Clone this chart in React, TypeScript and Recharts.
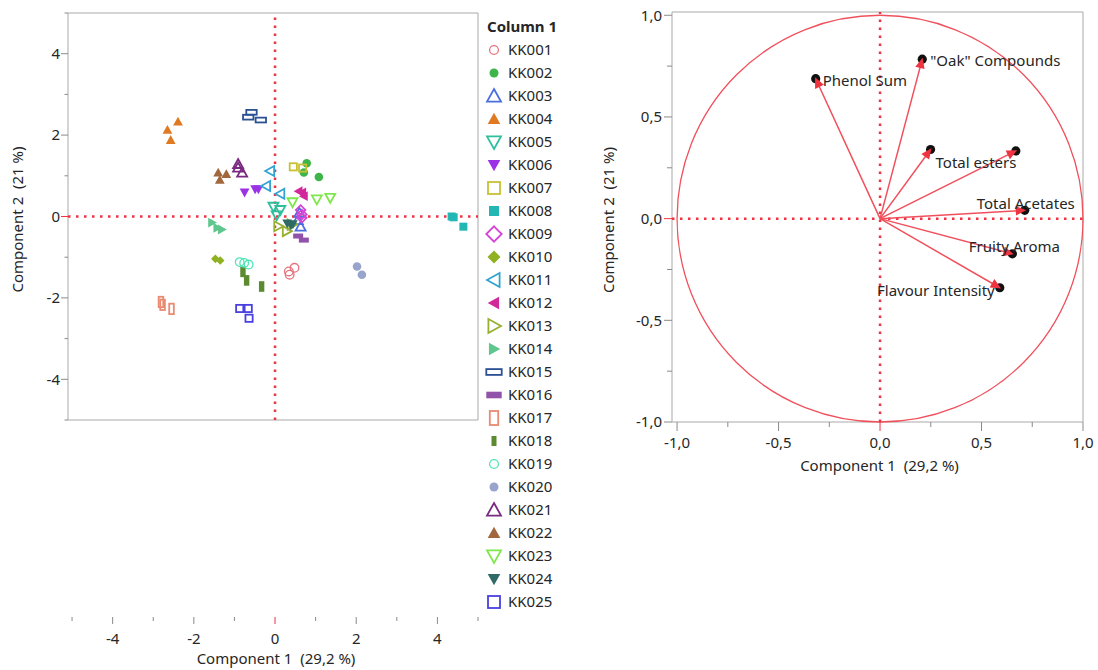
import React from 'react';
import { ScatterChart, Scatter, XAxis, YAxis, ReferenceLine, ReferenceArea } from 'recharts';

// ---- score plot data (three replicates per wine, some overlap) ----
const sampleNames = [
  'KK001', 'KK002', 'KK003', 'KK004', 'KK005', 'KK006', 'KK007', 'KK008', 'KK009', 'KK010',
  'KK011', 'KK012', 'KK013', 'KK014', 'KK015', 'KK016', 'KK017', 'KK018', 'KK019', 'KK020',
  'KK021', 'KK022', 'KK023', 'KK024', 'KK025',
];

const pc1Scores = [
  [0.48, 0.34, 0.36],
  [0.78, 0.71, 1.08],
  [0.6, 0.56, 0.63],
  [-2.39, -2.65, -2.57],
  [-0.04, 0.13, 0.04],
  [-0.75, -0.49, -0.41],
  [0.45, 0.68],
  [4.35, 4.4, 4.64],
  [0.63, 0.66, 0.66],
  [-1.47, -1.35],
  [-0.12, -0.22, 0.13],
  [0.58, 0.67, 0.71],
  [0.08, 0.29, 0.41],
  [-1.55, -1.42, -1.31],
  [-0.58, -0.66, -0.35],
  [0.57, 0.71],
  [-2.81, -2.77, -2.55],
  [-0.79, -0.7, -0.33],
  [-0.87, -0.76, -0.65],
  [2.02, 2.14],
  [-0.91, -0.91, -0.81],
  [-1.4, -1.2, -1.36],
  [0.43, 1.03, 1.36],
  [0.3, 0.39, 0.44],
  [-0.87, -0.66, -0.64],
];

const pc2Scores = [
  [-1.26, -1.35, -1.43],
  [1.31, 1.08, 0.97],
  [0.09, -0.09, -0.25],
  [2.33, 2.13, 1.88],
  [0.24, 0.16, 0.03],
  [0.59, 0.67, 0.67],
  [1.22, 1.19],
  [0.0, -0.02, -0.25],
  [0.16, 0.05, -0.03],
  [-1.04, -1.08],
  [1.12, 0.75, 0.56],
  [0.62, 0.59, 0.5],
  [-0.24, -0.36, -0.2],
  [-0.15, -0.28, -0.32],
  [2.56, 2.44, 2.37],
  [-0.48, -0.58],
  [-2.1, -2.17, -2.27],
  [-1.36, -1.57, -1.72],
  [-1.12, -1.14, -1.18],
  [-1.23, -1.43],
  [1.29, 1.2, 1.08],
  [1.08, 1.04, 0.9],
  [0.35, 0.42, 0.46],
  [-0.17, -0.22, -0.19],
  [-2.26, -2.26, -2.5],
];

const scoreTicks = [-5, -4, -3, -2, -1, 0, 1, 2, 3, 4, 5];

// ---- loading plot data ----
const loadingNames = ['Phenol Sum', '"Oak" Compounds', 'Total esters', '', 'Total Acetates', 'Fruity Aroma', 'Flavour Intensity'];
const loadingPC1 = [-0.317, 0.208, 0.249, 0.669, 0.713, 0.652, 0.59];
const loadingPC2 = [0.688, 0.784, 0.34, 0.333, 0.041, -0.173, -0.34];

const loadingTicks = [-1, -0.75, -0.5, -0.25, 0, 0.25, 0.5, 0.75, 1];

// ---- styling ----
type Kind = 'circle' | 'up' | 'down' | 'square' | 'diamond' | 'left' | 'right' | 'wide' | 'tall';
const markerKinds: Kind[] = [
  'circle', 'circle', 'up', 'up', 'down', 'down', 'square', 'square', 'diamond', 'diamond',
  'left', 'left', 'right', 'right', 'wide', 'wide', 'tall', 'tall', 'circle', 'circle',
  'up', 'up', 'down', 'down', 'square',
];
const markerColors = [
  '#e5737f', '#3db54a', '#4a6ee0', '#e07a22', '#2fbf9c', '#9b32e6', '#c9c132', '#22b6b4', '#d644d6', '#8fb122',
  '#35a3d2', '#d1299a', '#97b032', '#5fc78e', '#2b5193', '#9152a9', '#e98a72', '#5b8a31', '#4fe5b5', '#98a4cc',
  '#7a2a80', '#a0683c', '#80e64e', '#2f6b64', '#4a40e0',
];

// marker half sizes [open, filled]; legend symbols are drawn larger than plot symbols
const legendSizes = {
  circle: [4.4, 4.5], tri: [7, 6.3], square: [6, 5], diamond: [7.7, 6.5],
  wide: [[7.7, 2.9], [7.7, 3.3]], tall: [[4.2, 7], [2.5, 5]],
};
const plotSizes = {
  circle: [4.3, 4.3], tri: [5, 4.9], square: [3.6, 4], diamond: [4.8, 4.3],
  wide: [[5.2, 2.4], [5, 2.5]], tall: [[2.3, 5.2], [2.7, 5.3]],
};

const RED = '#ef3340';
const LINE_RED = '#f0505c';
const FRAME = '#a9a9a9';
const TICK = '#8a8a8a';
const TEXT = '#262626';
const FONT = "'Segoe UI', 'Noto Sans', sans-serif";

const scoreX: [number, number] = [-5.1, 5];
const scoreY: [number, number] = [-5, 5];
const loadX: [number, number] = [-1.025, 1];
const loadY: [number, number] = [-1, 1.016];

function Marker({ kind, filled, color, cx, cy, sizes }: { kind: Kind; filled: boolean; color: string; cx: number; cy: number; sizes: any }) {
  const f = filled ? 1 : 0;
  const paint = filled
    ? { fill: color, stroke: 'none' }
    : { fill: 'none', stroke: color, strokeWidth: 1.8 };
  const a = sizes.tri[f];
  switch (kind) {
    case 'circle':
      return <circle cx={cx} cy={cy} r={sizes.circle[f]} {...paint} strokeWidth={filled ? 0 : 1.3} />;
    case 'up':
      return <polygon points={`${cx},${cy - a} ${cx + a},${cy + 0.8 * a} ${cx - a},${cy + 0.8 * a}`} {...paint} />;
    case 'down':
      return <polygon points={`${cx},${cy + a} ${cx + a},${cy - 0.8 * a} ${cx - a},${cy - 0.8 * a}`} {...paint} />;
    case 'left':
      return <polygon points={`${cx - a},${cy} ${cx + 0.8 * a},${cy - a} ${cx + 0.8 * a},${cy + a}`} {...paint} />;
    case 'right':
      return <polygon points={`${cx + a},${cy} ${cx - 0.8 * a},${cy - a} ${cx - 0.8 * a},${cy + a}`} {...paint} />;
    case 'square': {
      const h = sizes.square[f];
      return <rect x={cx - h} y={cy - h} width={2 * h} height={2 * h} {...paint} />;
    }
    case 'diamond': {
      const h = sizes.diamond[f];
      return <polygon points={`${cx},${cy - h} ${cx + h},${cy} ${cx},${cy + h} ${cx - h},${cy}`} {...paint} />;
    }
    case 'wide': {
      const [w, h] = sizes.wide[f];
      return <rect x={cx - w} y={cy - h} width={2 * w} height={2 * h} {...paint} />;
    }
    case 'tall': {
      const [w, h] = sizes.tall[f];
      return <rect x={cx - w} y={cy - h} width={2 * w} height={2 * h} {...paint} />;
    }
  }
  return null;
}

const scoreSeries = sampleNames.map((name, i) => ({
  name,
  data: pc1Scores[i].map((x, j) => ({ x, y: pc2Scores[i][j] })),
}));

const loadingData = loadingNames.map((name, i) => ({ x: loadingPC1[i], y: loadingPC2[i], name, i }));

// where JMP put each loading label, relative to its point
const labelPlacement = [
  { dx: 7, dy: 1.5, anchor: 'start' },
  { dx: 8, dy: 2, anchor: 'start' },
  { dx: 5, dy: 13, anchor: 'start' },
  { dx: 0, dy: 0, anchor: 'start' },
  { dx: 1, dy: -7, anchor: 'middle' },
  { dx: 2, dy: -7, anchor: 'middle' },
  { dx: -5, dy: 3, anchor: 'end' },
];

const txt = { fontFamily: FONT, fontSize: 15, fill: TEXT };

// x axis of the score plot sits under the legend in JMP, far below the frame
const SCORE_AXIS_DROP = 197;

const ScoreXTick = (props: any) => {
  const { x, y, payload } = props;
  const v = payload.value;
  const major = v % 2 === 0;
  const y0 = y + SCORE_AXIS_DROP;
  return (
    <g>
      <line x1={x} x2={x} y1={y0} y2={y0 + (major ? 7 : 4)} stroke={v === 0 ? RED : TICK} />
      {major && <text x={x} y={y0 + 27} textAnchor="middle" {...txt}>{v}</text>}
    </g>
  );
};

const ScoreYTick = (props: any) => {
  const { x, y, payload } = props;
  const v = payload.value;
  const major = v % 2 === 0;
  return (
    <g>
      <line x1={x - (major ? 7 : 3.5)} x2={x} y1={y} y2={y} stroke={v === 0 ? RED : TICK} />
      {major && <text x={x - 8} y={y + 5.3} textAnchor="end" {...txt}>{v}</text>}
    </g>
  );
};

const fmt = (v: number) => v.toFixed(1).replace('.', ',');
const isHalf = (v: number) => Math.abs(v * 2 - Math.round(v * 2)) < 1e-6;

const LoadXTick = (props: any) => {
  const { x, y, payload } = props;
  const v = payload.value;
  const major = isHalf(v);
  return (
    <g>
      <line x1={x} x2={x} y1={y} y2={y + (major ? 9 : 5)} stroke={v === 0 ? RED : TICK} />
      {major && <text x={x} y={y + 25.5} textAnchor="middle" {...txt}>{fmt(v)}</text>}
    </g>
  );
};

const LoadYTick = (props: any) => {
  const { x, y, payload } = props;
  const v = payload.value;
  const major = isHalf(v);
  return (
    <g>
      <line x1={x - (major ? 8 : 5)} x2={x} y1={y} y2={y} stroke={v === 0 ? RED : TICK} />
      {major && <text x={x - 10} y={y + 5.3} textAnchor="end" {...txt}>{fmt(v)}</text>}
    </g>
  );
};

const xTitle = (dx: number, baseline: number) => (props: any) => {
  const vb = props.viewBox || { x: 0, y: 0, width: 0, height: 0 };
  return (
    <text x={vb.x + vb.width / 2 + dx} y={vb.y + baseline} textAnchor="middle" style={{ whiteSpace: 'pre' }} {...txt}>
      {'Component 1  (29,2 %)'}
    </text>
  );
};

const yTitle = (bx: number) => (props: any) => {
  const vb = props.viewBox || { x: 0, y: 0, width: 0, height: 0 };
  const cx = vb.x + bx;
  const cy = vb.y + vb.height / 2 + 3;
  return (
    <text x={cx} y={cy} transform={`rotate(-90, ${cx}, ${cy})`} textAnchor="middle" style={{ whiteSpace: 'pre' }} {...txt}>
      {'Component 2  (21 %)'}
    </text>
  );
};

const LoadingPoint = (props: any) => {
  const { cx, cy, payload } = props;
  const len = Math.hypot(payload.x, payload.y) || 1;
  const ux = payload.x / len;
  const uy = -payload.y / len;
  const tx = cx + ux * 1.5;
  const ty = cy + uy * 1.5;
  const bx = tx - ux * 10.5;
  const by = ty - uy * 10.5;
  const px = -uy * 4.8;
  const py = ux * 4.8;
  const place = labelPlacement[payload.i];
  return (
    <g>
      <circle cx={cx} cy={cy} r={4.6} fill="#111" />
      <polygon points={`${tx},${ty} ${bx + px},${by + py} ${bx - px},${by - py}`} fill={RED} />
      {payload.name && (
        <text x={cx + place.dx} y={cy + place.dy + 5.3} textAnchor={place.anchor as any} {...txt}>
          {payload.name}
        </text>
      )}
    </g>
  );
};

function Legend() {
  return (
    <svg width={118} height={615} style={{ position: 'absolute', left: 480, top: 0 }}>
      <text x={7} y={32.3} {...txt} fontWeight="bold">Column 1</text>
      {sampleNames.map((name, i) => {
        const cy = 50 + 23 * i;
        return (
          <g key={name}>
            <Marker kind={markerKinds[i]} filled={i % 2 === 1} color={markerColors[i]} cx={14} cy={cy} sizes={legendSizes} />
            <text x={28} y={cy + 5.3} {...txt}>{name}</text>
          </g>
        );
      })}
    </svg>
  );
}

export default function App() {
  return (
    <div style={{ position: 'absolute', left: 0, top: 0, width: 1098, height: 670, background: '#fff', fontFamily: FONT }}>
      <div style={{ position: 'absolute', left: 0, top: 0 }}>
        <ScatterChart width={480} height={670} margin={{ top: 13, right: 2, bottom: 0, left: 0 }}>
          <XAxis
            type="number"
            dataKey="x"
            domain={scoreX}
            ticks={scoreTicks}
            allowDataOverflow
            height={250}
            axisLine={false}
            tickLine={false}
            tickSize={0}
            tickMargin={0}
            tick={<ScoreXTick />}
            interval={0}
            label={{ content: xTitle(3, 244) }}
          />
          <YAxis
            type="number"
            dataKey="y"
            domain={scoreY}
            ticks={scoreTicks}
            allowDataOverflow
            width={68}
            axisLine={false}
            tickLine={false}
            tickSize={0}
            tickMargin={0}
            tick={<ScoreYTick />}
            interval={0}
            label={{ content: yTitle(22.5) }}
          />
          <ReferenceArea x1={scoreX[0]} x2={scoreX[1]} y1={scoreY[0]} y2={scoreY[1]} fill="none" stroke={FRAME} fillOpacity={0} ifOverflow="visible" />
          <ReferenceLine x={0} stroke={RED} strokeWidth={2.5} strokeDasharray="2.5 5.5" />
          <ReferenceLine y={0} stroke={RED} strokeWidth={2.5} strokeDasharray="2.5 5.5" />
          {scoreSeries.map((s, i) => (
            <Scatter
              key={s.name}
              name={s.name}
              data={s.data}
              isAnimationActive={false}
              shape={(p: any) => (
                <Marker kind={markerKinds[i]} filled={i % 2 === 1} color={markerColors[i]} cx={p.cx} cy={p.cy} sizes={plotSizes} />
              )}
            />
          ))}
        </ScatterChart>
      </div>
      <Legend />
      <div style={{ position: 'absolute', left: 590, top: 0 }}>
        <ScatterChart width={508} height={480} margin={{ top: 12, right: 15, bottom: 0, left: 10 }}>
          <XAxis
            type="number"
            dataKey="x"
            domain={loadX}
            ticks={loadingTicks}
            allowDataOverflow
            height={58}
            axisLine={false}
            tickLine={false}
            tickSize={0}
            tickMargin={0}
            tick={<LoadXTick />}
            interval={0}
            label={{ content: xTitle(2, 49) }}
          />
          <YAxis
            type="number"
            dataKey="y"
            domain={loadY}
            ticks={loadingTicks}
            allowDataOverflow
            width={72}
            axisLine={false}
            tickLine={false}
            tickSize={0}
            tickMargin={0}
            tick={<LoadYTick />}
            interval={0}
            label={{ content: yTitle(14) }}
          />
          <ReferenceArea x1={loadX[0]} x2={loadX[1]} y1={loadY[0]} y2={loadY[1]} fill="none" stroke={FRAME} fillOpacity={0} ifOverflow="visible" />
          <ReferenceArea
            x1={-1}
            x2={1}
            y1={-1}
            y2={1}
            ifOverflow="visible"
            shape={(p: any) => (
              <ellipse cx={p.x + p.width / 2} cy={p.y + p.height / 2} rx={p.width / 2} ry={p.height / 2} fill="none" stroke={LINE_RED} strokeWidth={1.3} />
            )}
          />
          <ReferenceLine x={0} stroke={RED} strokeWidth={2.5} strokeDasharray="2.5 5.5" />
          <ReferenceLine y={0} stroke={RED} strokeWidth={2.5} strokeDasharray="2.5 5.5" />
          {loadingData.map((d) => (
            <ReferenceLine
              key={d.i}
              segment={[{ x: 0, y: 0 }, { x: d.x, y: d.y }]}
              stroke={LINE_RED}
              strokeWidth={1.5}
              ifOverflow="visible"
            />
          ))}
          <Scatter data={loadingData} isAnimationActive={false} shape={<LoadingPoint />} />
        </ScatterChart>
      </div>
    </div>
  );
}
